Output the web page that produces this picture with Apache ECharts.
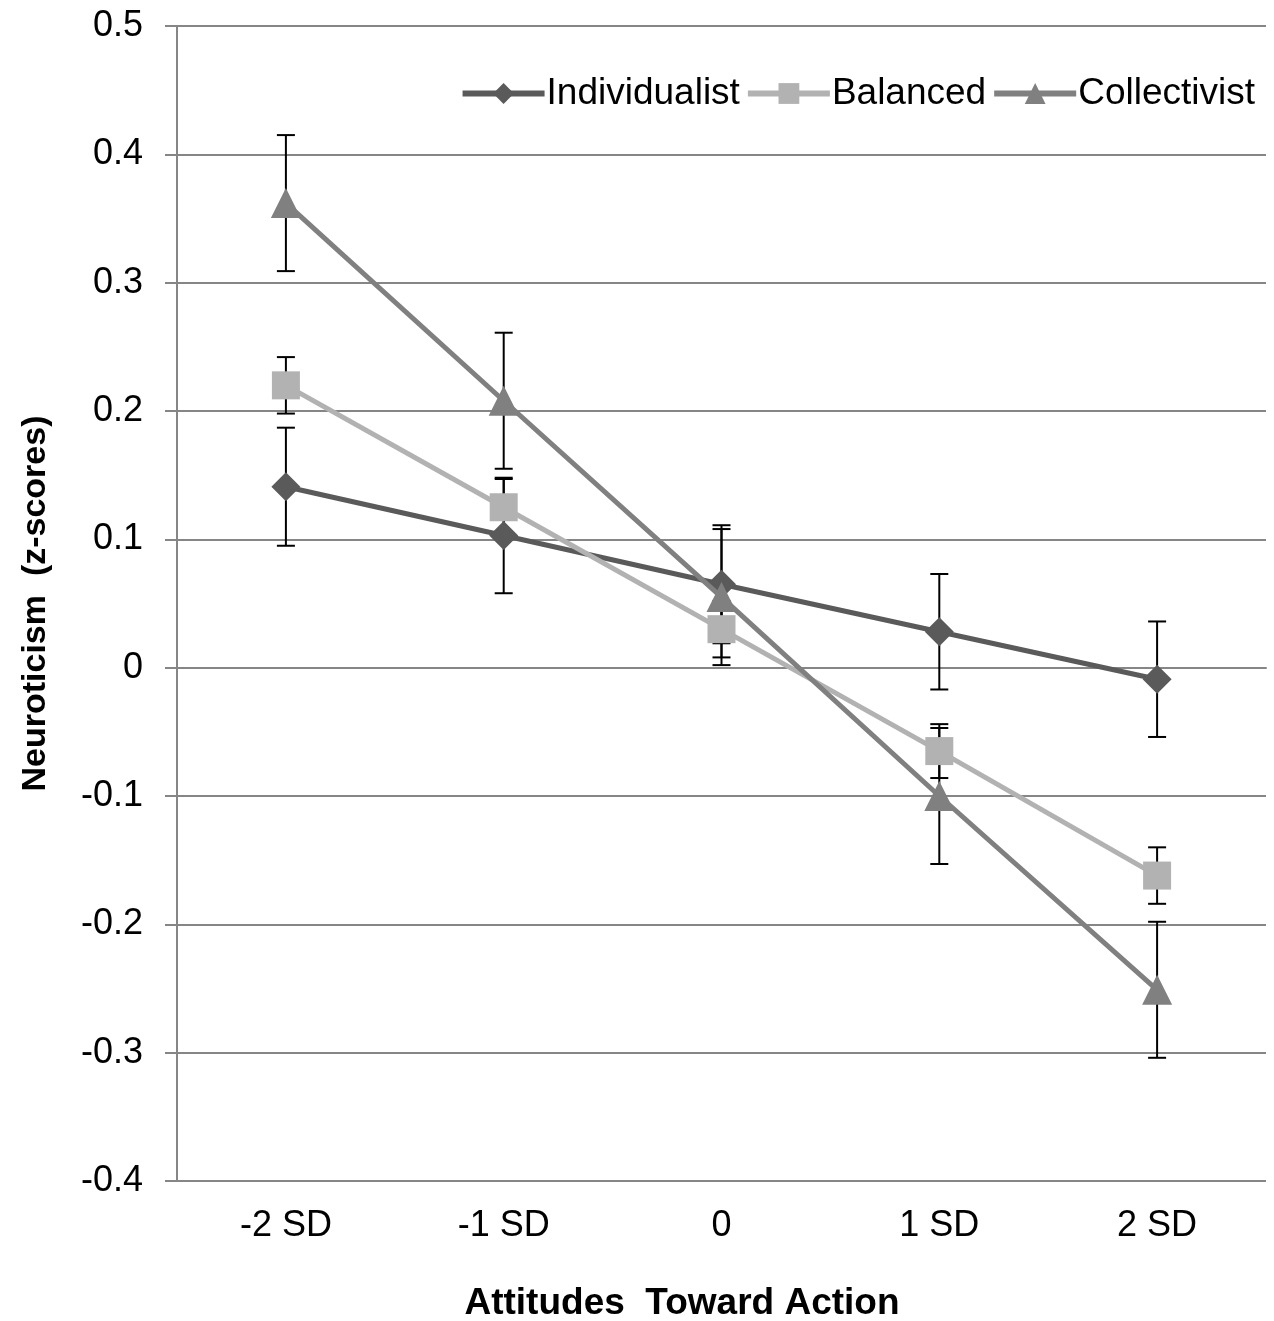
<!DOCTYPE html>
<html>
<head>
<meta charset="utf-8">
<script src="https://cdn.jsdelivr.net/npm/echarts@6/dist/echarts.min.js"></script>
<style>
  html, body { margin: 0; padding: 0; background: #fff; }
  #chart { width: 1274px; height: 1321px; }
</style>
</head>
<body>
<div id="chart"></div>
<script>
const categories = ['-2 SD', '-1 SD', '0', '1 SD', '2 SD'];
const seriesNames = ['Individualist', 'Balanced', 'Collectivist'];
const individualist = [0.141, 0.103, 0.065, 0.028, -0.009];
const balanced = [0.220, 0.125, 0.030, -0.065, -0.162];
const collectivist = [0.362, 0.208, 0.055, -0.100, -0.251];
const individualistErr = [0.046, 0.045, 0.046, 0.045, 0.045];
const balancedErr = [0.022, 0.022, 0.022, 0.021, 0.022];
const collectivistErr = [0.053, 0.053, 0.053, 0.053, 0.053];
const yTicks = { min: -0.4, max: 0.5, interval: 0.1 };

const font = '"Liberation Sans", Arial, sans-serif';
const colors = ['#5a5a5a', '#b2b2b2', '#808080'];
const symbols = ['diamond', 'rect', 'triangle'];
const symbolSizes = [29, 28, 30];

const chart = echarts.init(document.getElementById('chart'));

// error bar: vertical black line with caps
const renderErr = (params, api) => {
  const lo = api.coord([api.value(0), api.value(1)]);
  const hi = api.coord([api.value(0), api.value(2)]);
  const x = lo[0];
  const w = 9;
  const style = { stroke: '#000', lineWidth: 2 };
  return {
    type: 'group',
    children: [
      { type: 'line', shape: { x1: x, y1: hi[1], x2: x, y2: lo[1] }, style: style },
      { type: 'line', shape: { x1: x - w, y1: hi[1], x2: x + w, y2: hi[1] }, style: style },
      { type: 'line', shape: { x1: x - w, y1: lo[1], x2: x + w, y2: lo[1] }, style: style }
    ]
  };
};

const values = [individualist, balanced, collectivist];
const errs = [individualistErr, balancedErr, collectivistErr];

const errSeries = values.map((vals, i) => ({
  type: 'custom',
  name: seriesNames[i] + ' error',
  renderItem: renderErr,
  z: 1,
  silent: true,
  data: vals.map((v, j) => [j, v - errs[i][j], v + errs[i][j]])
}));

const lineSeries = values.map((vals, i) => ({
  type: 'line',
  name: seriesNames[i],
  z: 3 + i,
  data: vals,
  symbol: symbols[i],
  symbolSize: symbolSizes[i],
  lineStyle: { color: colors[i], width: 5 },
  itemStyle: { color: colors[i], opacity: 1 },
  emphasis: { disabled: true }
}));

chart.setOption({
  animation: false,
  backgroundColor: '#fff',
  textStyle: { fontFamily: font },
  grid: { left: 177, right: 8, top: 26, bottom: 140, outerBoundsMode: 'none', containLabel: false },
  legend: {
    data: seriesNames,
    right: 14,
    top: 70,
    itemWidth: 82,
    itemHeight: 26,
    itemGap: 5,
    lineStyle: { width: 6 },
    textStyle: { fontSize: 37, color: '#000', fontFamily: font, padding: [0, 0, 0, -3] }
  },
  xAxis: {
    type: 'category',
    data: categories,
    boundaryGap: true,
    name: 'Attitudes  Toward Action',
    nameLocation: 'middle',
    nameGap: 104,
    nameTextStyle: { fontSize: 37, fontWeight: 'bold', color: '#000', fontFamily: font, padding: [0, 79, 0, 0] },
    axisLine: { show: true, lineStyle: { color: '#868686', width: 2 } },
    axisTick: { show: false },
    axisLabel: { fontSize: 36, color: '#000', margin: 27 },
    splitLine: { show: false }
  },
  yAxis: {
    type: 'value',
    min: yTicks.min,
    max: yTicks.max,
    interval: yTicks.interval,
    name: 'Neuroticism  (z-scores)',
    nameLocation: 'middle',
    nameGap: 124,
    nameRotate: 90,
    nameTextStyle: { fontSize: 34, fontWeight: 'bold', color: '#000', fontFamily: font },
    axisLine: { show: true, lineStyle: { color: '#868686', width: 2 } },
    axisTick: { show: true, length: 12, lineStyle: { color: '#868686', width: 2 } },
    axisLabel: { fontSize: 36, color: '#000', margin: 34 },
    splitLine: { show: true, lineStyle: { color: '#868686', width: 2 } }
  },
  series: errSeries.concat(lineSeries)
});
</script>
</body>
</html>
